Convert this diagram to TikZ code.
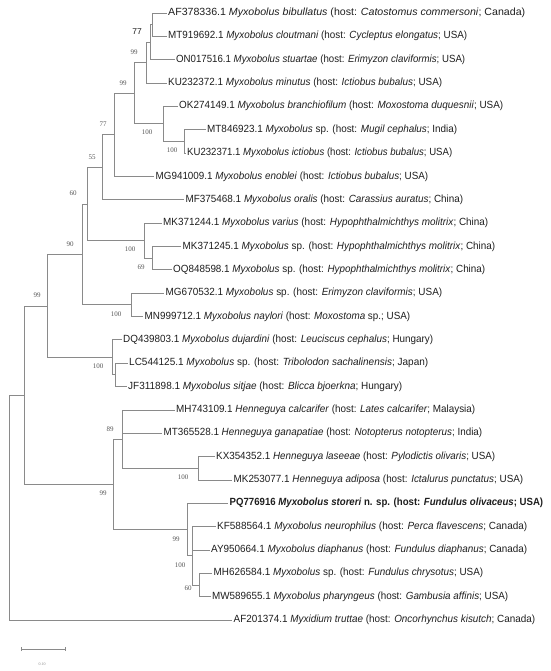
\documentclass[tikz,border=0pt]{standalone}
\usepackage{graphicx}
\usepackage{fontspec}
\setmainfont{Liberation Sans}
\newfontfamily\bsfont{Liberation Serif}
\usetikzlibrary{arrows.meta}
\definecolor{branchgray}{HTML}{8A8A8A}
\definecolor{labgray}{HTML}{555555}
\definecolor{txt}{HTML}{1E1E1E}
\newcommand{\fitw}[2]{\resizebox{#1pt}{\height}{#2}}
\tikzset{
  branch/.style={draw=branchgray, line width=0.8pt},
  leaf/.style={anchor=west, inner xsep=1.5pt, inner ysep=0pt, text=txt,
    font=\fontsize{10.4}{12}\selectfont, text height=7.4pt, text depth=2.2pt},
  boldleaf/.style={leaf, font=\bfseries\fontsize{10.4}{12}\selectfont},
  bs/.style={inner sep=0pt, text=labgray, font=\bsfont\fontsize{7}{8}\selectfont},
  bssans/.style={inner sep=0pt, text=txt, font=\fontsize{8.5}{9}\selectfont},
  scalebar/.style={draw=branchgray, line width=0.6pt, {Bar[width=4pt]}-{Bar[width=4pt]}},
  scalelab/.style={inner sep=0pt, text=branchgray, font=\bsfont\fontsize{4}{5}\selectfont}
}
\begin{document}
\begin{tikzpicture}[x=1pt,y=-1pt]
\useasboundingbox (0,0) rectangle (550,671);
% leaves
\node[leaf] (L1)  at (166.5,13.0)  {\fitw{357}{AF378336.1 \textit{Myxobolus bibullatus} (host: \textit{Catostomus commersoni}; Canada)}};
\node[leaf] (L2)  at (166.5,36.3)  {\fitw{299}{MT919692.1 \textit{Myxobolus cloutmani} (host: \textit{Cycleptus elongatus}; USA)}};
\node[leaf] (L3)  at (174.5,59.7)  {\fitw{289}{ON017516.1 \textit{Myxobolus stuartae} (host: \textit{Erimyzon claviformis}; USA)}};
\node[leaf] (L4)  at (166.5,83.0)  {\fitw{274}{KU232372.1 \textit{Myxobolus minutus} (host: \textit{Ictiobus bubalus}; USA)}};
\node[leaf] (L5)  at (177.5,106.4) {\fitw{324}{OK274149.1 \textit{Myxobolus branchiofilum} (host: \textit{Moxostoma duquesnii}; USA)}};
\node[leaf] (L6)  at (205.5,129.7) {\fitw{250}{MT846923.1 \textit{Myxobolus} sp. (host: \textit{Mugil cephalus}; India)}};
\node[leaf] (L7)  at (185.5,153.1) {\fitw{265}{KU232371.1 \textit{Myxobolus ictiobus} (host: \textit{Ictiobus bubalus}; USA)}};
\node[leaf] (L8)  at (154.0,176.4) {\fitw{272.5}{MG941009.1 \textit{Myxobolus enoblei} (host: \textit{Ictiobus bubalus}; USA)}};
\node[leaf] (L9)  at (184.0,199.8) {\fitw{277.5}{MF375468.1 \textit{Myxobolus oralis} (host: \textit{Carassius auratus}; China)}};
\node[leaf] (L10) at (161.5,223.1) {\fitw{325}{MK371244.1 \textit{Myxobolus varius} (host: \textit{Hypophthalmichthys molitrix}; China)}};
\node[leaf] (L11) at (181.0,246.5) {\fitw{312.5}{MK371245.1 \textit{Myxobolus} sp. (host: \textit{Hypophthalmichthys molitrix}; China)}};
\node[leaf] (L12) at (171.5,269.8) {\fitw{312}{OQ848598.1 \textit{Myxobolus} sp. (host: \textit{Hypophthalmichthys molitrix}; China)}};
\node[leaf] (L13) at (164.0,293.2) {\fitw{276.5}{MG670532.1 \textit{Myxobolus} sp. (host: \textit{Erimyzon claviformis}; USA)}};
\node[leaf] (L14) at (143.0,316.5) {\fitw{265.5}{MN999712.1 \textit{Myxobolus naylori} (host: \textit{Moxostoma} sp.; USA)}};
\node[leaf] (L15) at (121.5,339.8) {\fitw{310}{DQ439803.1 \textit{Myxobolus dujardini} (host: \textit{Leuciscus cephalus}; Hungary)}};
\node[leaf] (L16) at (127.5,363.2) {\fitw{299}{LC544125.1 \textit{Myxobolus} sp. (host: \textit{Tribolodon sachalinensis}; Japan)}};
\node[leaf] (L17) at (126.5,386.5) {\fitw{274}{JF311898.1 \textit{Myxobolus sitjae} (host: \textit{Blicca bjoerkna}; Hungary)}};
\node[leaf] (L18) at (174.5,409.9) {\fitw{299}{MH743109.1 \textit{Henneguya calcarifer} (host: \textit{Lates calcarifer}; Malaysia)}};
\node[leaf] (L19) at (162.0,433.2) {\fitw{318.5}{MT365528.1 \textit{Henneguya ganapatiae} (host: \textit{Notopterus notopterus}; India)}};
\node[leaf] (L20) at (214.5,456.6) {\fitw{279}{KX354352.1 \textit{Henneguya laseeae} (host: \textit{Pylodictis olivaris}; USA)}};
\node[leaf] (L21) at (232.0,479.9) {\fitw{289.5}{MK253077.1 \textit{Henneguya adiposa} (host: \textit{Ictalurus punctatus}; USA)}};
\node[boldleaf] (L22) at (228.0,503.3) {\fitw{313.5}{PQ776916 \textit{Myxobolus storeri} n. sp. (host: \textit{Fundulus olivaceus}; USA)}};
\node[leaf] (L23) at (215.5,526.6) {\fitw{310}{KF588564.1 \textit{Myxobolus neurophilus} (host: \textit{Perca flavescens}; Canada)}};
\node[leaf] (L24) at (209.5,550.0) {\fitw{316}{AY950664.1 \textit{Myxobolus diaphanus} (host: \textit{Fundulus diaphanus}; Canada)}};
\node[leaf] (L25) at (212.0,573.3) {\fitw{269.5}{MH626584.1 \textit{Myxobolus} sp. (host: \textit{Fundulus chrysotus}; USA)}};
\node[leaf] (L26) at (210.5,596.7) {\fitw{296}{MW589655.1 \textit{Myxobolus pharyngeus} (host: \textit{Gambusia affinis}; USA)}};
\node[leaf] (L27) at (232.0,620.0) {\fitw{301.5}{AF201374.1 \textit{Myxidium truttae} (host: \textit{Oncorhynchus kisutch}; Canada)}};
% internal nodes
\coordinate (nAFMT) at (152,24.65);
\coordinate (n149) at (150,42.2);
\coordinate (n146) at (146,62.6);
\coordinate (n184) at (184,141.4);
\coordinate (n163) at (163,123.9);
\coordinate (n133) at (134,93.25);
\coordinate (n114) at (114,134.8);
\coordinate (n102) at (102,167.3);
\coordinate (n152) at (152,258.15);
\coordinate (n144) at (144,240.6);
\coordinate (n87) at (87,204.0);
\coordinate (n131) at (131,304.85);
\coordinate (n82) at (82,254.4);
\coordinate (n115) at (115,374.85);
\coordinate (n111) at (112,357.3);
\coordinate (n47) at (47,305.9);
\coordinate (n198) at (198,468.25);
\coordinate (n123) at (122.5,439.1);
\coordinate (n199) at (199,585.0);
\coordinate (n193) at (192.5,555.8);
\coordinate (n188) at (187.5,529.55);
\coordinate (n113) at (113,484.3);
\coordinate (n24) at (24,395.1);
\coordinate (root) at (9,507.5);
% branches
\draw[branch] (root) |- (n24);
\draw[branch] (root) |- (L27.west);
\draw[branch] (n24) |- (n47);
\draw[branch] (n24) |- (n113);
\draw[branch] (n47) |- (n82);
\draw[branch] (n47) |- (n111);
\draw[branch] (n82) |- (n87);
\draw[branch] (n82) |- (n131);
\draw[branch] (n87) |- (n102);
\draw[branch] (n87) |- (n144);
\draw[branch] (n102) |- (n114);
\draw[branch] (n102) |- (L9.west);
\draw[branch] (n114) |- (n133);
\draw[branch] (n114) |- (L8.west);
\draw[branch] (n133) |- (n146);
\draw[branch] (n133) |- (n163);
\draw[branch] (n146) |- (n149);
\draw[branch] (n146) |- (L4.west);
\draw[branch] (n149) |- (nAFMT);
\draw[branch] (n149) |- (L3.west);
\draw[branch] (nAFMT) |- (L1.west);
\draw[branch] (nAFMT) |- (L2.west);
\draw[branch] (n163) |- (L5.west);
\draw[branch] (n163) |- (n184);
\draw[branch] (n184) |- (L6.west);
\draw[branch] (n184) |- (L7.west);
\draw[branch] (n144) |- (L10.west);
\draw[branch] (n144) |- (n152);
\draw[branch] (n152) |- (L11.west);
\draw[branch] (n152) |- (L12.west);
\draw[branch] (n131) |- (L13.west);
\draw[branch] (n131) |- (L14.west);
\draw[branch] (n111) |- (L15.west);
\draw[branch] (n111) |- (n115);
\draw[branch] (n115) |- (L16.west);
\draw[branch] (n115) |- (L17.west);
\draw[branch] (n113) |- (n123);
\draw[branch] (n113) |- (n188);
\draw[branch] (n123) |- (L18.west);
\draw[branch] (n123) |- (L19.west);
\draw[branch] (n123) |- (n198);
\draw[branch] (n198) |- (L20.west);
\draw[branch] (n198) |- (L21.west);
\draw[branch] (n188) |- (L22.west);
\draw[branch] (n188) |- (n193);
\draw[branch] (n193) |- (L23.west);
\draw[branch] (n193) |- (L24.west);
\draw[branch] (n193) |- (n199);
\draw[branch] (n199) |- (L25.west);
\draw[branch] (n199) |- (L26.west);
% bootstrap values
\node[bssans] (b1) at (137,32) {77};
\node[bs] (b2) at (134,52) {99};
\node[bs] (b3) at (123,83) {99};
\node[bs] (b4) at (103,124) {77};
\node[bs] (b5) at (147,132) {100};
\node[bs] (b6) at (172,150) {100};
\node[bs] (b7) at (92,157) {55};
\node[bs] (b8) at (73,193) {60};
\node[bs] (b9) at (70,244) {90};
\node[bs] (b10) at (130,249) {100};
\node[bs] (b11) at (141,267) {69};
\node[bs] (b12) at (37,295) {99};
\node[bs] (b13) at (116,314) {100};
\node[bs] (b14) at (98,366) {100};
\node[bs] (b15) at (110,429) {89};
\node[bs] (b16) at (183,477) {100};
\node[bs] (b17) at (103,493) {99};
\node[bs] (b18) at (176,539) {99};
\node[bs] (b19) at (180,565) {100};
\node[bs] (b20) at (188,588) {60};
% scale bar
\coordinate (sbL) at (21,649);
\coordinate (sbR) at (66,649);
\draw[scalebar] (sbL) -- (sbR);
\node[scalelab] (sbt) at (42,664) {0.10};
\end{tikzpicture}
\end{document}
